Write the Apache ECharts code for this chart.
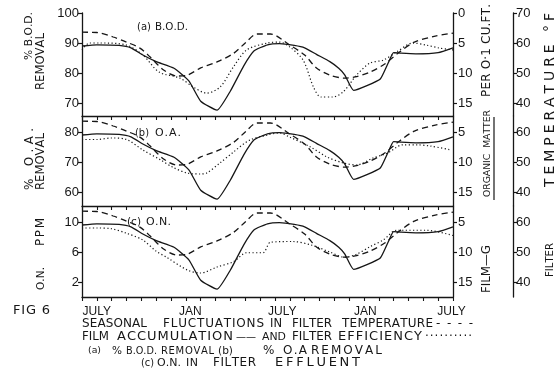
<!DOCTYPE html>
<html>
<head>
<meta charset="utf-8">
<script src="https://cdn.jsdelivr.net/npm/echarts@6/dist/echarts.min.js"></script>
<style>
  html, body { margin: 0; padding: 0; background: #fff; }
  #chart { width: 557px; height: 372px; }
</style>
</head>
<body>
<div id="chart"></div>
<script>
// Month index along the time axis: 1 = July, 7 = January, 13 = July, ...
const tickMonths = [1, 7.3, 13.5, 19.1, 24.9];
const tickLabels = ['JULY', 'JAN', 'JULY', 'JAN', 'JULY'];

// Filter temperature, °F (dashed)
const tempMonths = [0, 1, 2.1, 3, 3.9, 4.6, 5.5, 6.4, 7.1, 8, 9.1, 10.2, 11, 11.8, 12.7, 14, 15, 15.8, 16.7, 17.7, 18.4, 19.4, 20.4, 21.4, 22.4, 23.8, 25];
const tempValues = [63.6, 63.5, 62, 60.3, 58.3, 55.3, 51, 49, 49.3, 51.7, 53.7, 56.5, 60, 63, 63, 59.3, 56, 51.7, 49.3, 48.3, 48.7, 50.3, 53, 57, 60.3, 62.3, 63.3];

// Film accumulation, g organic matter per 0.1 cu.ft. (solid)
const filmMonths = [0, 1, 2.5, 3.3, 4.1, 5, 6.2, 7.2, 8, 9.1, 10, 10.9, 11.6, 12.5, 13.3, 14.3, 15, 15.8, 16.7, 17.3, 17.7, 18.3, 19.2, 20.1, 20.6, 21, 21.5, 22.5, 24, 25];
const filmValues = [5.5, 5.3, 5.4, 5.8, 7, 8.1, 9.2, 11.3, 14.7, 16.2, 13, 8.8, 6.3, 5.3, 5.1, 5.4, 5.8, 6.9, 8.1, 9.2, 10.3, 12.9, 12.1, 11, 8.5, 6.6, 6.7, 6.8, 6.6, 5.8];

// (a) % B.O.D. removal (dotted)
const bodMonths = [0, 0.5, 1.2, 3, 4.1, 5.2, 6.6, 7.5, 8.4, 9.3, 10.2, 11.1, 12.5, 13.3, 14, 14.9, 15.6, 16.1, 16.9, 17.6, 18.5, 19.4, 20.3, 21.2, 22.3, 23.2, 24.1, 25];
const bodValues = [87.7, 90, 90, 89.3, 86, 80.3, 78.3, 75.3, 73.3, 75.3, 82, 87.7, 90, 90.3, 88.7, 84.3, 75.3, 72, 72, 73.7, 79.3, 83.3, 84.3, 87, 90, 89.3, 88.3, 87.7];

// (b) % O.A. removal (dotted)
const oaMonths = [0, 1, 2, 3, 4.1, 5.3, 6.1, 7.1, 8, 8.4, 9.3, 10.2, 11.3, 12.5, 13.3, 14, 15.4, 16.5, 17.6, 18.5, 19.6, 20.6, 21.6, 22.6, 23.5, 24.9];
const oaValues = [77.5, 77.5, 78, 77.5, 74, 70.7, 68.3, 66.3, 66, 66.3, 69.7, 73.3, 77.3, 79, 79.7, 78.3, 75, 71.7, 69.7, 69, 71.3, 73, 75.7, 75.7, 75.3, 74];

// (c) O.N. in filter effluent, p.p.m. (dotted)
const onMonths = [0, 1, 2, 3, 4.1, 5, 5.7, 7.1, 8, 9.1, 10.2, 11.1, 12.2, 12.7, 14.2, 15.5, 16.7, 17.7, 18.5, 19.4, 20.3, 21.2, 23.2, 25];
const onValues = [9.2, 9.2, 9.1, 8.5, 7.6, 6.1, 5.3, 3.6, 3.2, 4, 4.7, 5.9, 5.9, 7.3, 7.4, 6.9, 6, 5.3, 5.7, 6.7, 7.6, 8.9, 8.9, 8.2];

const INK = '#161616';
const FONT = 'DejaVu Sans';
const NUM_FONT = 'Liberation Sans';

const pairs = (xs, ys) => xs.map((x, i) => [x, ys[i]]);

const grids = [
  { left: 82, right: 104, top: 13, height: 103 },
  { left: 82, right: 104, top: 116, height: 90 },
  { left: 82, right: 104, top: 206, height: 91 }
];

function xAx(g) {
  return {
    type: 'value', gridIndex: g, min: 0, max: 25, interval: 1,
    axisLine: { show: true, onZero: false, lineStyle: { color: INK, width: 1.3 } },
    axisTick: { show: true, length: 4, lineStyle: { color: INK, width: 1.1 } },
    axisLabel: g === 2 ? {
      customValues: tickMonths,
      formatter: v => tickLabels[tickMonths.indexOf(v)],
      color: INK, fontFamily: NUM_FONT, fontSize: 12, margin: 9
    } : { show: false },
    splitLine: { show: false }
  };
}

function yAx(g, position, min, max, ticks, extra) {
  return Object.assign({
    type: 'value', gridIndex: g, position, min, max,
    axisLine: { show: true, onZero: false, lineStyle: { color: INK, width: 1.3 } },
    axisTick: { show: true, length: 4, customValues: ticks, lineStyle: { color: INK, width: 1.2 } },
    axisLabel: { customValues: ticks, color: INK, fontFamily: NUM_FONT, fontSize: 13, margin: 3 },
    splitLine: { show: false }
  }, extra || {});
}

const filmLabel = { color: INK, fontFamily: NUM_FONT, fontSize: 13, margin: 5 };

const yAxes = [
  // panel (a)
  yAx(0, 'left', 65.667, 100, [70, 80, 90, 100]),
  yAx(0, 'right', 0, 17.167, [0, 5, 10, 15], { inverse: true, axisLabel: Object.assign({}, filmLabel, { customValues: [0, 5, 10, 15] }) }),
  yAx(0, 'right', 35.667, 70, [40, 50, 60, 70], { offset: 60 }),
  // panel (b)
  yAx(1, 'left', 55.333, 85.333, [60, 70, 80]),
  yAx(1, 'right', 2.333, 17.333, [5, 10, 15], { inverse: true, axisLabel: Object.assign({}, filmLabel, { customValues: [5, 10, 15] }) }),
  yAx(1, 'right', 35.333, 65.333, [40, 50, 60], { offset: 60 }),
  // panel (c)
  yAx(2, 'left', 0, 12.133, [2, 6, 10]),
  yAx(2, 'right', 2.333, 17.5, [5, 10, 15], { inverse: true, axisLabel: Object.assign({}, filmLabel, { customValues: [5, 10, 15] }) }),
  yAx(2, 'right', 35, 65.333, [40, 50, 60], { offset: 60 })
];

const effData = [pairs(bodMonths, bodValues), pairs(oaMonths, oaValues), pairs(onMonths, onValues)];
const series = [];
for (let g = 0; g < 3; g++) {
  series.push({
    type: 'line', xAxisIndex: g, yAxisIndex: g * 3 + 2, data: pairs(tempMonths, tempValues),
    showSymbol: false, smooth: 0.3,
    lineStyle: { color: INK, width: 1.3, type: [6, 4] }
  });
  series.push({
    type: 'line', xAxisIndex: g, yAxisIndex: g * 3 + 1, data: pairs(filmMonths, filmValues),
    showSymbol: false, smooth: 0.15,
    lineStyle: { color: INK, width: 1.3, type: 'solid' }
  });
  series.push({
    type: 'line', xAxisIndex: g, yAxisIndex: g * 3, data: effData[g],
    showSymbol: false, smooth: 0.3,
    lineStyle: { color: INK, width: 1.2, type: [1.2, 2.4] }
  });
}

// Lettering: letters are spaced out evenly so each word fills its span.
const measureCtx = document.createElement('canvas').getContext('2d');
function spaced(text, x, y, size, span, vertical) {
  const chars = Array.from(text);
  measureCtx.font = size + 'px "' + FONT + '"';
  let widths = chars.map(c => measureCtx.measureText(c).width);
  let total = widths.reduce((a, b) => a + b, 0);
  let fs = size, gap = 0;
  if (total > span) {
    fs = size * span / total;
    widths = widths.map(w => w * span / total);
  } else if (chars.length > 1) {
    gap = (span - total) / (chars.length - 1);
  }
  const out = [];
  let pos = 0;
  chars.forEach((c, i) => {
    if (c !== ' ') {
      out.push({
        type: 'text',
        x: vertical ? x : x + pos,
        y: vertical ? y - pos : y,
        rotation: vertical ? Math.PI / 2 : 0,
        style: { text: c, fill: INK, font: fs.toFixed(2) + 'px "' + FONT + '"', textAlign: 'left', textVerticalAlign: 'middle' }
      });
    }
    pos += widths[i] + gap;
  });
  return out;
}
// horizontal word between x1 and x2, centred on y
const word = (text, x1, x2, y, size) => spaced(text, x1, y, size, x2 - x1, false);
// vertical word reading upwards from yBottom to yTop, centred on x
const vword = (text, x, yBottom, yTop, size) => spaced(text, x, yBottom, size, yBottom - yTop, true);

const graphics = [].concat(
  // panel tags
  word('(a)', 137, 151, 27, 11), word('B.O.D.', 155, 188, 27, 11),
  word('(b)', 135, 149, 133, 11), word('O.A.', 155, 181, 133, 11),
  word('(c)', 127, 141, 222, 11), word('O.N.', 146, 171, 222, 11),
  // left axis titles
  vword('% B.O.D.', 29, 60, 12, 12),
  vword('REMOVAL', 41, 90, 33, 12),
  vword('% O.A.', 30, 190, 128, 12),
  vword('REMOVAL', 41, 190, 133, 12),
  vword('O.N.', 41, 290, 267, 12),
  vword('PPM', 41, 246, 218, 12),
  // film axis title
  vword('PER O·1 CU.FT.', 487, 97, 4, 12),
  vword('ORGANIC  MATTER', 488, 197, 110, 12),
  [{ type: 'line', shape: { x1: 494, y1: 117, x2: 494, y2: 200 }, style: { stroke: INK, lineWidth: 1.2 } }],
  vword('FILM—G', 487, 293, 245, 12),
  // temperature axis title
  vword('TEMPERATURE °F', 550, 187, 13, 14),
  vword('FILTER', 550, 277, 243, 12),
  // figure number
  word('FIG 6', 13, 50, 311, 13),
  // caption, line 1
  word('SEASONAL', 82, 147, 324, 12), word('FLUCTUATIONS', 163, 264, 324, 12),
  word('IN', 270, 282, 324, 12), word('FILTER', 292, 332, 324, 12),
  word('TEMPERATURE', 342, 433, 324, 12), word('- - - -', 436, 473, 324, 12),
  // caption, line 2
  word('FILM', 82, 109, 337, 12), word('ACCUMULATION', 117, 233, 337, 13),
  word('——', 236, 256, 337, 12), word('AND', 262, 286, 337, 12),
  word('FILTER', 292, 332, 337, 12), word('EFFICIENCY', 338, 422, 337, 13),
  word('··········', 425, 472, 337, 12),
  // caption, line 3
  word('(a)', 88, 101, 351, 10), word('%', 112, 122, 351, 11),
  word('B.O.D.', 126, 157, 351, 10), word('REMOVAL', 161, 214, 351, 10),
  word('(b)', 218, 233, 351, 11), word('%', 263, 277, 351, 12),
  word('O.A', 283, 307, 351, 12), word('REMOVAL', 311, 382, 351, 12),
  // caption, line 4
  word('(c)', 141, 154, 363, 11), word('O.N.', 157, 181, 363, 11),
  word('IN', 186, 198, 363, 11), word('FILTER', 213, 256, 363, 12),
  word('EFFLUENT', 275, 360, 363, 13)
);

const chart = echarts.init(document.getElementById('chart'), null, { renderer: 'canvas' });
chart.setOption({
  animation: false,
  backgroundColor: '#fff',
  grid: grids,
  xAxis: [xAx(0), xAx(1), xAx(2)],
  yAxis: yAxes,
  series,
  graphic: graphics
});
</script>
</body>
</html>
